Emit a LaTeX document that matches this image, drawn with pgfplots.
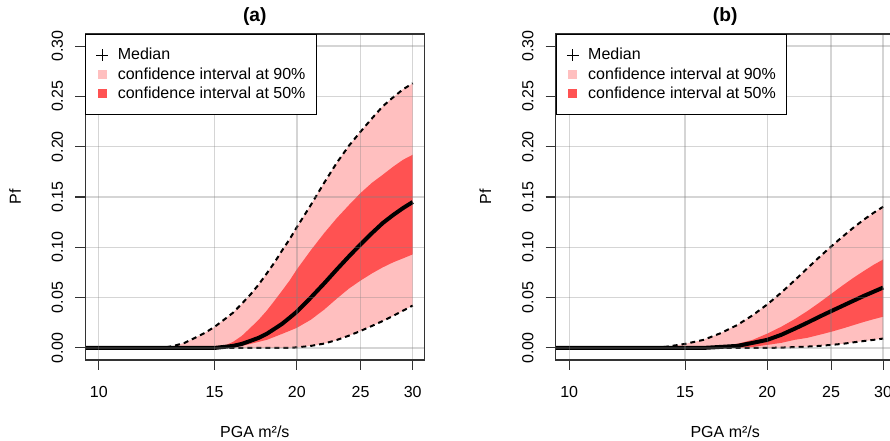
\documentclass[border=0pt]{standalone}
\usepackage{pgfplots}
\pgfplotsset{compat=1.18}
\usepackage{pgfplotstable}
\usepackage{fontspec}
\setmainfont{Liberation Sans}
\definecolor{pinkc}{RGB}{255,191,191}
\definecolor{redc}{RGB}{255,82,82}

\pgfplotstableread{
x     lo90    med    up90
9.54  0       0      0
12.5  0       0      0
13    0       0      0.002
13.5  0       0      0.005
14    0       0      0.010
14.5  0       0      0.015
15    0       0      0.021
15.5  0       0.001  0.028
16    0       0.002  0.035
16.5  0       0.004  0.044
17    0       0.007  0.053
17.5  0       0.010  0.063
18    0       0.014  0.074
18.5  0       0.019  0.085
19    0       0.024  0.097
19.5  0.0002  0.030  0.108
20    0.0005  0.036  0.120
21    0.0020  0.050  0.142
22    0.0043  0.064  0.164
23    0.0079  0.078  0.184
24    0.0122  0.091  0.201
25    0.0169  0.103  0.215
26    0.0218  0.114  0.228
27    0.0267  0.124  0.240
28    0.0318  0.132  0.249
29    0.0370  0.139  0.257
30    0.0421  0.145  0.263
}\dataA

\pgfplotstableread{
x     lo90    med     up90
9.54  0       0       0
13    0       0       0
14    0       0       0.001
15    0       0       0.004
16    0       0       0.008
17    0       0.001   0.0147
18    0       0.002   0.0227
19    0       0.005   0.0324
20    0       0.008   0.0432
21    0.0003  0.013   0.0549
22    0.0008  0.019   0.0670
23    0.0013  0.025   0.0790
24    0.0020  0.031   0.0903
25    0.0030  0.0365  0.1007
26    0.0040  0.0417  0.1103
27    0.0055  0.0467  0.1192
28    0.0068  0.0515  0.1272
29    0.0080  0.0558  0.1342
30    0.0093  0.0600  0.1403
}\dataB

\tikzset{
  medstyle/.style={black, line width=3pt},
  dashstyle/.style={black, line width=1.5pt, dash pattern=on 3.75pt off 3pt},
}

\begin{document}
\begin{tikzpicture}

\begin{axis}[
    at={(63.975pt,60.75pt)}, anchor=south west, title={(a)},
    scale only axis, width=254.25pt, height=244.5pt,
    xmode=log, xmin=9.54, xmax=31.24,
    ymin=-0.012, ymax=0.312,
    xtick={10,15,20,25,30}, xticklabels={10,15,20,25,30},
    ytick={0,0.05,0.1,0.15,0.2,0.25,0.3},
    yticklabels={0.00,0.05,0.10,0.15,0.20,0.25,0.30},
    minor xtick={}, minor ytick={},
    tick align=outside, xtick pos=bottom, ytick pos=left,
    major tick length=7.5pt,
    tick style={black!80, line width=0.8pt},
    axis line style={black!80, line width=0.8pt},
    grid=major,
    major grid style={gray, opacity=0.33, line width=1pt},
    axis on top,
    tick label style={font=\fontsize{12}{14}\selectfont},
    xticklabel style={anchor=north, inner sep=0pt, yshift=-12pt},
    yticklabel style={xshift=-9pt, rotate=90, anchor=south, inner sep=0pt},
    xlabel={PGA m²/s}, ylabel={Pf},
    every axis x label/.style={at={(0.5,0)}, yshift=-53.8pt, anchor=center, font=\fontsize{12}{14}\selectfont},
    every axis y label/.style={at={(0,0.5)}, xshift=-52.7pt, rotate=90, anchor=center, font=\fontsize{12}{14}\selectfont},
    every axis title/.style={at={(0.5,1)}, yshift=13pt, anchor=center, font=\bfseries\fontsize{14.4}{17}\selectfont},
    legend cell align=left,
    legend style={at={(0,1)}, anchor=north west, draw=black, line width=0.75pt, fill=white,
      inner xsep=8pt, inner ysep=10pt, row sep=3.4pt, column sep=7pt,
      font=\fontsize{12}{14}\selectfont,
      nodes={inner sep=0pt, text height=9pt, text depth=2pt}},
  ]
  % 90% band (upper forward, lower backward)
  \addplot[fill=pinkc, draw=none, forget plot] coordinates {
    (9.54,0)(12.5,0)(13,0.002)(13.5,0.005)(14,0.010)(14.5,0.015)(15,0.021)(15.5,0.028)(16,0.035)(16.5,0.044)(17,0.053)(17.5,0.063)(18,0.074)(18.5,0.085)(19,0.097)(19.5,0.108)(20,0.120)(21,0.142)(22,0.164)(23,0.184)(24,0.201)(25,0.215)(26,0.228)(27,0.240)(28,0.249)(29,0.257)(30,0.263)
    (30,0.0421)(29,0.0370)(28,0.0318)(27,0.0267)(26,0.0218)(25,0.0169)(24,0.0122)(23,0.0079)(22,0.0043)(21,0.0020)(20,0.0005)(19.5,0.0002)(19,0)(9.54,0)};
  % 50% band
  \addplot[fill=redc, draw=none, forget plot] coordinates {
    (15,0)(15.5,0.002)(16,0.006)(16.5,0.012)(17,0.020)(17.5,0.028)(18,0.037)(18.5,0.047)(19,0.057)(19.5,0.067)(20,0.078)(21,0.097)(22,0.114)(23,0.129)(24,0.142)(25,0.154)(26,0.164)(27,0.172)(28,0.180)(29,0.187)(30,0.192)
    (30,0.093)(29,0.089)(28,0.085)(27,0.080)(26,0.074)(25,0.067)(24,0.059)(23,0.049)(22,0.038)(21,0.028)(20,0.020)(19.5,0.017)(19,0.014)(18.5,0.011)(18,0.008)(17.5,0.006)(17,0.004)(16.5,0.002)(16,0.001)(15.5,0)};
  \addplot[dashstyle, forget plot] table[x=x, y=up90] {\dataA};
  \addplot[dashstyle, forget plot] table[x=x, y=lo90] {\dataA};
  \addplot[medstyle, forget plot] table[x=x, y=med] {\dataA};
  \addlegendimage{only marks, mark=+, mark size=4.5pt, black, line width=0.6pt}
  \addlegendentry{Median}
  \addlegendimage{only marks, mark=square*, mark size=3pt, draw=pinkc, fill=pinkc}
  \addlegendentry{confidence interval at 90\%}
  \addlegendimage{only marks, mark=square*, mark size=3pt, draw=redc, fill=redc}
  \addlegendentry{confidence interval at 50\%}
\end{axis}

\begin{axis}[
    at={(416.775pt,60.75pt)}, anchor=south west, title={(b)},
    scale only axis, width=254.25pt, height=244.5pt,
    xmode=log, xmin=9.54, xmax=31.24,
    ymin=-0.012, ymax=0.312,
    xtick={10,15,20,25,30}, xticklabels={10,15,20,25,30},
    ytick={0,0.05,0.1,0.15,0.2,0.25,0.3},
    yticklabels={0.00,0.05,0.10,0.15,0.20,0.25,0.30},
    minor xtick={}, minor ytick={},
    tick align=outside, xtick pos=bottom, ytick pos=left,
    major tick length=7.5pt,
    tick style={black!80, line width=0.8pt},
    axis line style={black!80, line width=0.8pt},
    grid=major,
    major grid style={gray, opacity=0.33, line width=1pt},
    axis on top,
    tick label style={font=\fontsize{12}{14}\selectfont},
    xticklabel style={anchor=north, inner sep=0pt, yshift=-12pt},
    yticklabel style={xshift=-9pt, rotate=90, anchor=south, inner sep=0pt},
    xlabel={PGA m²/s}, ylabel={Pf},
    every axis x label/.style={at={(0.5,0)}, yshift=-53.8pt, anchor=center, font=\fontsize{12}{14}\selectfont},
    every axis y label/.style={at={(0,0.5)}, xshift=-52.7pt, rotate=90, anchor=center, font=\fontsize{12}{14}\selectfont},
    every axis title/.style={at={(0.5,1)}, yshift=13pt, anchor=center, font=\bfseries\fontsize{14.4}{17}\selectfont},
    legend cell align=left,
    legend style={at={(0,1)}, anchor=north west, draw=black, line width=0.75pt, fill=white,
      inner xsep=8pt, inner ysep=10pt, row sep=3.4pt, column sep=7pt,
      font=\fontsize{12}{14}\selectfont,
      nodes={inner sep=0pt, text height=9pt, text depth=2pt}},
  ]
  \addplot[fill=pinkc, draw=none, forget plot] coordinates {
    (9.54,0)(13,0)(14,0.001)(15,0.004)(16,0.008)(17,0.0147)(18,0.0227)(19,0.0324)(20,0.0432)(21,0.0549)(22,0.0670)(23,0.0790)(24,0.0903)(25,0.1007)(26,0.1103)(27,0.1192)(28,0.1272)(29,0.1342)(30,0.1403)
    (30,0.0093)(29,0.0080)(28,0.0068)(27,0.0055)(26,0.0040)(25,0.0030)(24,0.0020)(23,0.0013)(22,0.0008)(21,0.0003)(20,0)(9.54,0)};
  \addplot[fill=redc, draw=none, forget plot] coordinates {
    (16,0)(17,0.001)(18,0.004)(19,0.008)(20,0.0142)(21,0.0210)(22,0.0285)(23,0.0365)(24,0.0450)(25,0.0536)(26,0.0618)(27,0.0694)(28,0.0762)(29,0.0825)(30,0.0879)
    (30,0.0310)(29,0.0285)(28,0.0257)(27,0.0225)(26,0.0192)(25,0.0160)(24,0.0130)(23,0.0100)(22,0.0080)(21,0.0050)(20,0.0030)(19,0.0010)(18,0)(16,0)};
  \addplot[dashstyle, forget plot] table[x=x, y=up90] {\dataB};
  \addplot[dashstyle, forget plot] table[x=x, y=lo90] {\dataB};
  \addplot[medstyle, forget plot] table[x=x, y=med] {\dataB};
  \addlegendimage{only marks, mark=+, mark size=4.5pt, black, line width=0.6pt}
  \addlegendentry{Median}
  \addlegendimage{only marks, mark=square*, mark size=3pt, draw=pinkc, fill=pinkc}
  \addlegendentry{confidence interval at 90\%}
  \addlegendimage{only marks, mark=square*, mark size=3pt, draw=redc, fill=redc}
  \addlegendentry{confidence interval at 50\%}
\end{axis}
\pgfresetboundingbox
\useasboundingbox (0pt,0pt) rectangle (667.5pt,330.75pt);
\end{tikzpicture}
\end{document}
